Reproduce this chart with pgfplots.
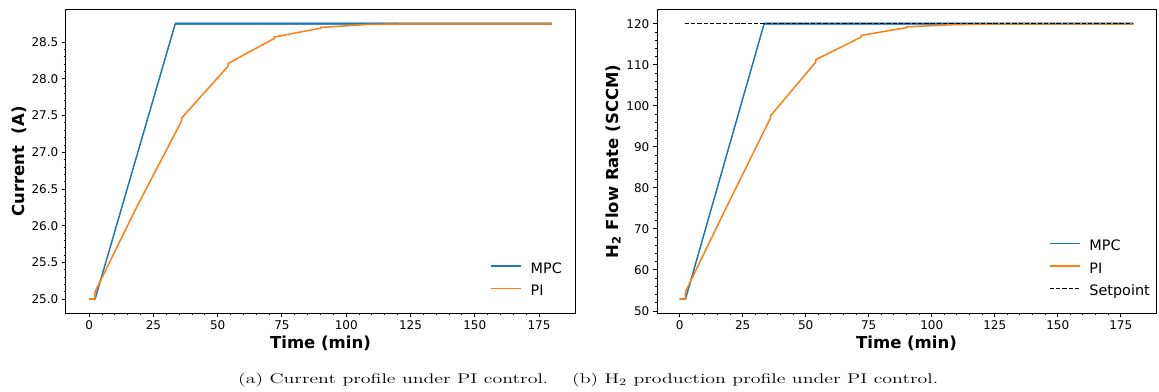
\documentclass[border=0pt]{standalone}
\usepackage{fontspec}
\usepackage{graphicx}
\usepackage{pgfplots}
\pgfplotsset{compat=1.18}
\newfontfamily\dejavu{DejaVu Sans}
\definecolor{mpc}{HTML}{1F77B4}
\definecolor{pic}{HTML}{FF7F0E}
\definecolor{mpcl}{HTML}{8FBBDA}

\pgfplotstableread{
t v
0 25.00
2.3 25.00
33.5 28.75
180 28.75
}\mpcA
\pgfplotstableread{
t v
0 25.00
2.2 25.00
2.3 25.10
18 26.22
36 27.43
36.05 27.47
54 28.17
54.05 28.21
72 28.55
72.05 28.57
90 28.69
90.05 28.70
108 28.74
126 28.75
180 28.75
}\piA
\pgfplotstableread{
t v
0 52.9
2.3 52.9
33.5 120
180 120
}\mpcB
\pgfplotstableread{
t v
0 52.9
2.2 52.9
2.3 54.7
18 74.6
36 97.0
36.05 97.6
54 110.7
54.05 111.3
72 116.8
72.05 117.2
90 119.1
90.05 119.3
108 119.8
126 120.0
180 120.0
}\piB
\pgfplotstableread{
t v
2 120
180 120
}\spB

\pgfplotsset{
  legend image code/.code={\draw[#1] (0pt,3.5pt) -- (30pt,3.5pt);},
  myaxis/.style={
    scale only axis, height=303pt, anchor=south west,
    xmin=-9, xmax=189,
    xtick={0,25,...,175},
    minor x tick num=4, minor y tick num=4,
    tick align=outside, xtick pos=bottom, ytick pos=left,
    major tick length=4.2pt, minor tick length=2.4pt,
    every tick/.style={black, line width=0.9pt},
    axis line style={line width=1pt},
    tick label style={font=\dejavu\fontsize{12}{12}\selectfont},
    /pgf/number format/assume math mode=true,
    label style={font=\dejavu\bfseries\fontsize{16.5}{16.5}\selectfont},
    xlabel={Time (min)},
    xlabel style={at={(axis description cs:0.5,0)}, anchor=base, yshift=-35pt},
    legend style={draw=none, fill=none, inner sep=0pt,
      font=\dejavu\fontsize{14.4}{14.4}\selectfont,
      row sep=8.5pt,
      nodes={inner sep=0pt, text height=10.5pt, text depth=3.5pt},
      /tikz/every odd column/.append style={column sep=9pt}},
    legend cell align=left,
  }
}

\begin{document}
\begin{tikzpicture}
\useasboundingbox (0pt,0pt) rectangle (1159pt,391pt);
\begin{axis}[myaxis, at={(66pt,78pt)}, width=509pt,
  ymin=24.8125, ymax=28.9375,
  ytick={25,25.5,...,28.5},
  yticklabel style={/pgf/number format/.cd, fixed, fixed zerofill, precision=1},
  ylabel={Current\ \ (A)},
  ylabel style={at={(axis description cs:-0.0806,0.5)}, anchor=base},
  legend style={at={(axis description cs:0.833,0.045)}, anchor=south west},
]
\addplot[mpcl, line width=3pt, forget plot] coordinates {(33.5,28.75) (180,28.75)};
\addplot[mpc, line width=1.5pt] table[x=t,y=v] {\mpcA};
\addlegendentry{MPC}
\addplot[pic, line width=1.5pt] table[x=t,y=v] {\piA};
\addlegendentry{PI}
\end{axis}

\begin{axis}[myaxis, at={(657pt,78pt)}, width=499pt,
  ymin=49.5, ymax=123.4,
  ytick={50,60,...,120},
  ylabel={H\textsubscript{2} Flow Rate (SCCM)},
  ylabel style={at={(axis description cs:-0.078,0.5)}, anchor=base},
  legend style={at={(axis description cs:0.785,0.045)}, anchor=south west},
]
\addplot[mpcl, line width=3pt, forget plot] coordinates {(33.5,120) (180,120)};
\addplot[mpc, line width=1.5pt] table[x=t,y=v] {\mpcB};
\addlegendentry{MPC}
\addplot[pic, line width=1.5pt] table[x=t,y=v] {\piB};
\addlegendentry{PI}
\addplot[black, line width=1.1pt, dash pattern=on 4.4pt off 1.9pt] table[x=t,y=v] {\spB};
\addlegendentry{Setpoint}
\end{axis}

\node[anchor=base west, inner sep=0pt, font=\fontsize{14}{14}\selectfont] at (238pt,7.5pt) {\scalebox{1.42}[1]{(a) Current profile under PI control.}};
\node[anchor=base west, inner sep=0pt, font=\fontsize{14}{14}\selectfont] at (572pt,7.5pt) {\scalebox{1.42}[1]{(b) H$_2$ production profile under PI control.}};
\end{tikzpicture}
\end{document}
